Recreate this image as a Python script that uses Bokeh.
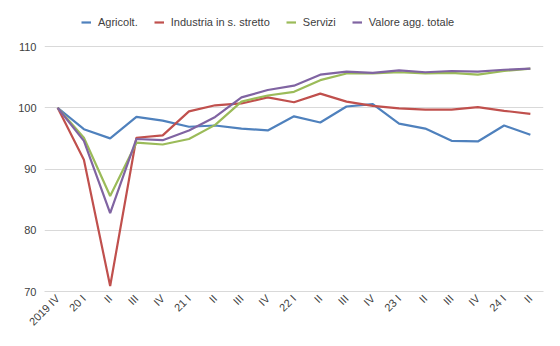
from bokeh.plotting import figure
from bokeh.models import FixedTicker, Legend, LegendItem, Range1d
from bokeh.embed import file_html
from bokeh.resources import INLINE
from math import pi

quarters = ["2019 IV", "20 I", "II", "III", "IV", "21 I", "II", "III", "IV",
            "22 I", "II", "III", "IV", "23 I", "II", "III", "IV", "24 I", "II"]
agricolt = [100, 96.5, 95.0, 98.5, 97.9, 96.9, 97.1, 96.6, 96.3, 98.6, 97.6,
            100.2, 100.6, 97.4, 96.6, 94.6, 94.5, 97.1, 95.6]
industria = [100, 91.5, 70.9, 95.1, 95.5, 99.4, 100.4, 100.7, 101.7, 100.9, 102.3,
             101.0, 100.3, 99.9, 99.7, 99.7, 100.1, 99.5, 99.0]
servizi = [100, 95.1, 85.6, 94.3, 94.0, 94.9, 97.2, 101.0, 102.0, 102.6, 104.5,
           105.6, 105.6, 105.8, 105.6, 105.7, 105.4, 106.0, 106.4]
valore = [100, 94.6, 82.8, 94.9, 94.7, 96.3, 98.5, 101.7, 102.9, 103.6, 105.4,
          105.9, 105.7, 106.1, 105.8, 106.0, 105.9, 106.2, 106.4]
series_names = ["Agricolt.", "Industria in s. stretto", "Servizi", "Valore agg. totale"]
colors = ["#4F81BD", "#C0504D", "#9BBB59", "#8064A2"]
y_ticks = [70, 80, 90, 100, 110]

FONT = "Liberation Sans"
TXT = "#404040"

xs = list(range(len(quarters)))

# frame spans to the top of the canvas so the legend can sit above the 110 line
y_top = 110 + 46 * 40 / 245

p = figure(width=560, height=346, output_backend="svg", toolbar_location=None,
           x_range=Range1d(-0.5, len(quarters) - 0.5), y_range=Range1d(70, y_top),
           min_border_left=44, min_border_right=17, min_border_top=0,
           min_border_bottom=55)
p.outline_line_color = None
p.background_fill_color = "white"
p.border_fill_color = "white"

renderers = []
for vals, c in zip([agricolt, industria, servizi, valore], colors):
    r = p.line(xs, vals, line_color=c, line_width=2.2)
    renderers.append(r)

p.xgrid.grid_line_color = None
p.ygrid.grid_line_color = "#D9D9D9"
p.ygrid.grid_line_width = 1

p.yaxis.ticker = FixedTicker(ticks=y_ticks)
p.yaxis.axis_line_color = None
p.yaxis.major_tick_line_color = None
p.yaxis.major_tick_out = 0
p.yaxis.major_tick_in = 0
p.yaxis.minor_tick_line_color = None
p.yaxis.major_label_text_font = FONT
p.yaxis.major_label_text_font_size = "11px"
p.yaxis.major_label_text_color = TXT
p.yaxis.major_label_standoff = 8

p.xaxis.ticker = FixedTicker(ticks=xs)
p.xaxis.major_label_overrides = {i: q for i, q in enumerate(quarters)}
p.xaxis.major_label_orientation = pi / 4
p.xaxis.axis_line_color = "#D9D9D9"
p.xaxis.major_tick_line_color = None
p.xaxis.major_tick_out = 0
p.xaxis.major_tick_in = 0
p.xaxis.minor_tick_line_color = None
p.xaxis.major_label_text_font = FONT
p.xaxis.major_label_text_font_size = "11px"
p.xaxis.major_label_text_color = TXT
p.xaxis.major_label_standoff = 5

legend = Legend(items=[LegendItem(label=n, renderers=[r]) for n, r in zip(series_names, renderers)],
                orientation="horizontal", location=(37, 263))
legend.label_text_font = FONT
legend.label_text_font_size = "11px"
legend.label_text_color = TXT
legend.glyph_width = 10
legend.glyph_height = 8
legend.label_height = 12
legend.label_standoff = 7
legend.spacing = 16
legend.padding = 0
legend.margin = 0
legend.border_line_color = None
legend.background_fill_alpha = 0
p.add_layout(legend, "center")

open("out.html", "w").write(file_html(p, INLINE))
